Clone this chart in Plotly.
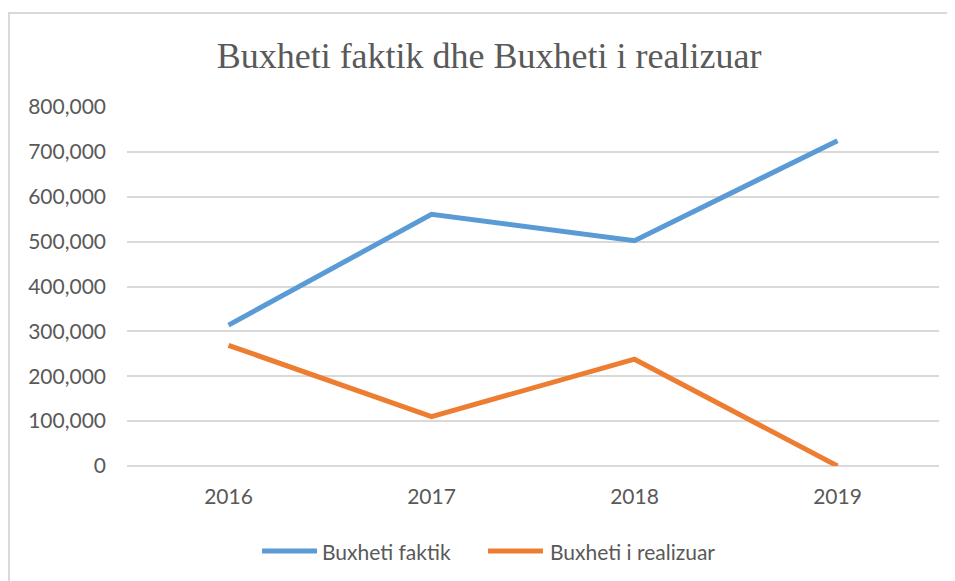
import plotly.graph_objects as go

# Data
years = ["2016", "2017", "2018", "2019"]
series_names = ["Buxheti faktik", "Buxheti i realizuar"]
buxheti_faktik = [314000, 561000, 502000, 725000]
buxheti_realizuar = [269000, 110000, 238000, 0]
y_ticks = [0, 100000, 200000, 300000, 400000, 500000, 600000, 700000, 800000]

colors = ['#5B9BD5', '#ED7D31']
grey = '#595959'
tick_font = dict(family='Lato, Open Sans, sans-serif', size=21, color=grey)

fig = go.Figure()

for name, values, color in zip(series_names, [buxheti_faktik, buxheti_realizuar], colors):
    fig.add_trace(go.Scatter(
        x=years, y=values,
        mode='lines',
        name=name,
        line=dict(color=color, width=5),
        showlegend=False
    ))

# Hand-drawn legend (Excel style: long line sample, text right after it)
legend_items = [
    # line x0, line x1, text x  (paper coords)
    (0.1663, 0.2340, 0.2377),
    (0.4446, 0.5123, 0.5185),
]
legend_y = -0.2368
shapes = []
annotations = []
for (lx0, lx1, tx), name, color in zip(legend_items, series_names, colors):
    shapes.append(dict(
        type='line', xref='paper', yref='paper',
        x0=lx0, x1=lx1, y0=legend_y, y1=legend_y,
        line=dict(color=color, width=5)
    ))
    annotations.append(dict(
        text=name, xref='paper', yref='paper',
        x=tx, y=legend_y, xanchor='left', yanchor='middle',
        showarrow=False, font=tick_font
    ))

# Outer chart border (light grey frame, cut by the page edges)
shapes.append(dict(
    type='rect', xref='paper', yref='paper',
    x0=-0.1453, x1=1.2, y0=-0.5, y1=1.2618,
    line=dict(color='#d9d9d9', width=2),
    fillcolor='rgba(0,0,0,0)', layer='below'
))

fig.update_layout(
    width=947, height=573,
    margin=dict(l=119, r=16, t=99, b=115),
    paper_bgcolor='white',
    plot_bgcolor='white',
    title=dict(
        text='Buxheti faktik dhe Buxheti i realizuar',
        x=0.508, xanchor='center', xref='container',
        y=0.918, yanchor='middle',
        font=dict(family='Liberation Serif, serif', size=36, color=grey)
    ),
    xaxis=dict(
        type='category',
        range=[-0.5, 3.5],
        showgrid=False,
        showline=False,
        ticks='',
        tickfont=tick_font,
        ticklabelstandoff=16
    ),
    yaxis=dict(
        range=[0, 800000],
        tickvals=y_ticks,
        tickformat=',',
        showgrid=True,
        gridcolor='#d9d9d9',
        gridwidth=1.5,
        zeroline=True,
        zerolinecolor='#d9d9d9',
        zerolinewidth=1.5,
        showline=False,
        tickfont=tick_font,
        ticklabelstandoff=20
    ),
    showlegend=False,
    shapes=shapes,
    annotations=annotations
)

fig.write_html("out.html")
